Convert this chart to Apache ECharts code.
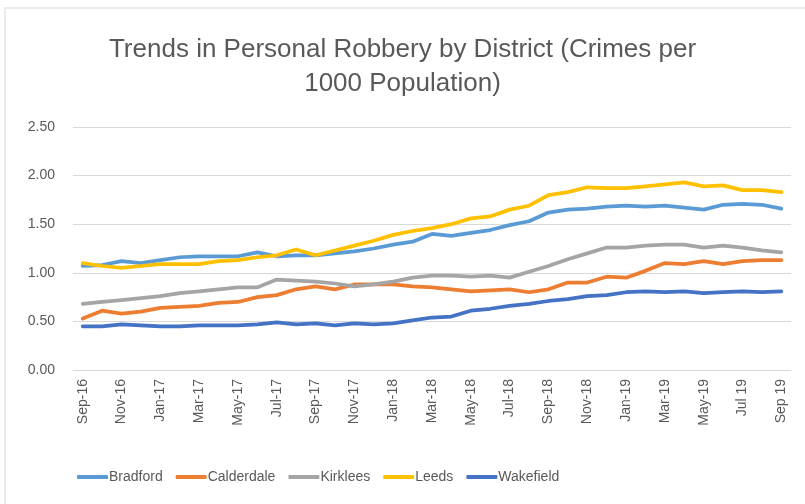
<!DOCTYPE html>
<html>
<head>
<meta charset="utf-8">
<script src="https://cdn.jsdelivr.net/npm/echarts@6/dist/echarts.min.js"></script>
<style>
  html, body { margin: 0; padding: 0; background: #ffffff; }
  #chart { width: 805px; height: 504px; }
</style>
</head>
<body>
<div id="chart"></div>
<script>
// Monthly periods, Sep-16 to Sep-19
const months = [
  'Sep-16','Oct-16','Nov-16','Dec-16','Jan-17','Feb-17','Mar-17','Apr-17','May-17','Jun-17',
  'Jul-17','Aug-17','Sep-17','Oct-17','Nov-17','Dec-17','Jan-18','Feb-18','Mar-18','Apr-18',
  'May-18','Jun-18','Jul-18','Aug-18','Sep-18','Oct-18','Nov-18','Dec-18','Jan-19','Feb-19',
  'Mar-19','Apr-19','May-19','Jun-19','Jul 19','Aug 19','Sep 19'
];

// Personal robbery, crimes per 1000 population
const bradford = [
  1.07,1.08,1.12,1.10,1.13,1.16,1.17,1.17,1.17,1.21,
  1.17,1.18,1.18,1.20,1.22,1.25,1.29,1.32,1.40,1.38,
  1.41,1.44,1.49,1.53,1.62,1.65,1.66,1.68,1.69,1.68,
  1.69,1.67,1.65,1.70,1.71,1.70,1.66
];
const calderdale = [
  0.53,0.61,0.58,0.60,0.64,0.65,0.66,0.69,0.70,0.75,
  0.77,0.83,0.86,0.83,0.88,0.88,0.88,0.86,0.85,0.83,
  0.81,0.82,0.83,0.80,0.83,0.90,0.90,0.96,0.95,1.02,
  1.10,1.09,1.12,1.09,1.12,1.13,1.13
];
const kirklees = [
  0.68,0.70,0.72,0.74,0.76,0.79,0.81,0.83,0.85,0.85,
  0.93,0.92,0.91,0.89,0.86,0.88,0.91,0.95,0.97,0.97,
  0.96,0.97,0.95,1.01,1.07,1.14,1.20,1.26,1.26,1.28,
  1.29,1.29,1.26,1.28,1.26,1.23,1.21
];
const leeds = [
  1.10,1.07,1.05,1.07,1.09,1.09,1.09,1.12,1.13,1.16,
  1.18,1.24,1.18,1.23,1.28,1.33,1.39,1.43,1.46,1.50,
  1.56,1.58,1.65,1.69,1.80,1.83,1.88,1.87,1.87,1.89,
  1.91,1.93,1.89,1.90,1.85,1.85,1.83
];
const wakefield = [
  0.45,0.45,0.47,0.46,0.45,0.45,0.46,0.46,0.46,0.47,
  0.49,0.47,0.48,0.46,0.48,0.47,0.48,0.51,0.54,0.55,
  0.61,0.63,0.66,0.68,0.71,0.73,0.76,0.77,0.80,0.81,
  0.80,0.81,0.79,0.80,0.81,0.80,0.81
];

const seriesNames = ['Bradford','Calderdale','Kirklees','Leeds','Wakefield'];
const seriesData = [bradford, calderdale, kirklees, leeds, wakefield];
const colors = ['#5B9BD5','#ED7D31','#A5A5A5','#FFC000','#4472C4'];

const textColor = '#595959';
const fontFamily = '"Liberation Sans", Arial, sans-serif';

const chart = echarts.init(document.getElementById('chart'), null, { renderer: 'canvas' });

chart.setOption({
  animation: false,
  backgroundColor: '#ffffff',
  color: colors,
  title: {
    text: 'Trends in Personal Robbery by District (Crimes per\n1000 Population)',
    left: 'center',
    top: 28,
    textStyle: {
      color: textColor,
      fontFamily: fontFamily,
      fontWeight: 'normal',
      fontSize: 26,
      lineHeight: 34
    }
  },
  graphic: [
    {
      type: 'polyline',
      shape: { points: [[5, 505], [5, 8], [805, 8]] },
      style: { stroke: '#e3e3e3', lineWidth: 1.5, fill: null },
      silent: true
    }
  ],
  legend: {
    bottom: 15,
    left: 72,
    icon: 'roundRect',
    itemWidth: 31,
    itemHeight: 4,
    itemGap: 13,
    textStyle: {
      color: textColor,
      fontFamily: fontFamily,
      fontSize: 14,
      padding: [0, 0, 0, -4]
    },
    data: seriesNames
  },
  grid: {
    left: 73,
    right: 14,
    top: 127,
    bottom: 134
  },
  xAxis: {
    type: 'category',
    data: months,
    boundaryGap: true,
    axisLine: { lineStyle: { color: '#d9d9d9', width: 1 } },
    axisTick: { show: false },
    axisLabel: {
      interval: 1,
      rotate: 90,
      color: textColor,
      fontFamily: fontFamily,
      fontSize: 14,
      margin: 9
    }
  },
  yAxis: {
    type: 'value',
    min: 0,
    max: 2.5,
    interval: 0.5,
    axisLine: { show: false },
    axisTick: { show: false },
    splitLine: { lineStyle: { color: '#d9d9d9', width: 1 } },
    axisLabel: {
      color: textColor,
      fontFamily: fontFamily,
      fontSize: 14,
      margin: 18,
      formatter: v => v.toFixed(2)
    }
  },
  series: seriesNames.map((name, i) => ({
    name: name,
    type: 'line',
    data: seriesData[i],
    showSymbol: false,
    symbol: 'none',
    lineStyle: { width: 3.75, color: colors[i], cap: 'round', join: 'round' },
    itemStyle: { color: colors[i] },
    emphasis: { disabled: true }
  }))
});
</script>
</body>
</html>
